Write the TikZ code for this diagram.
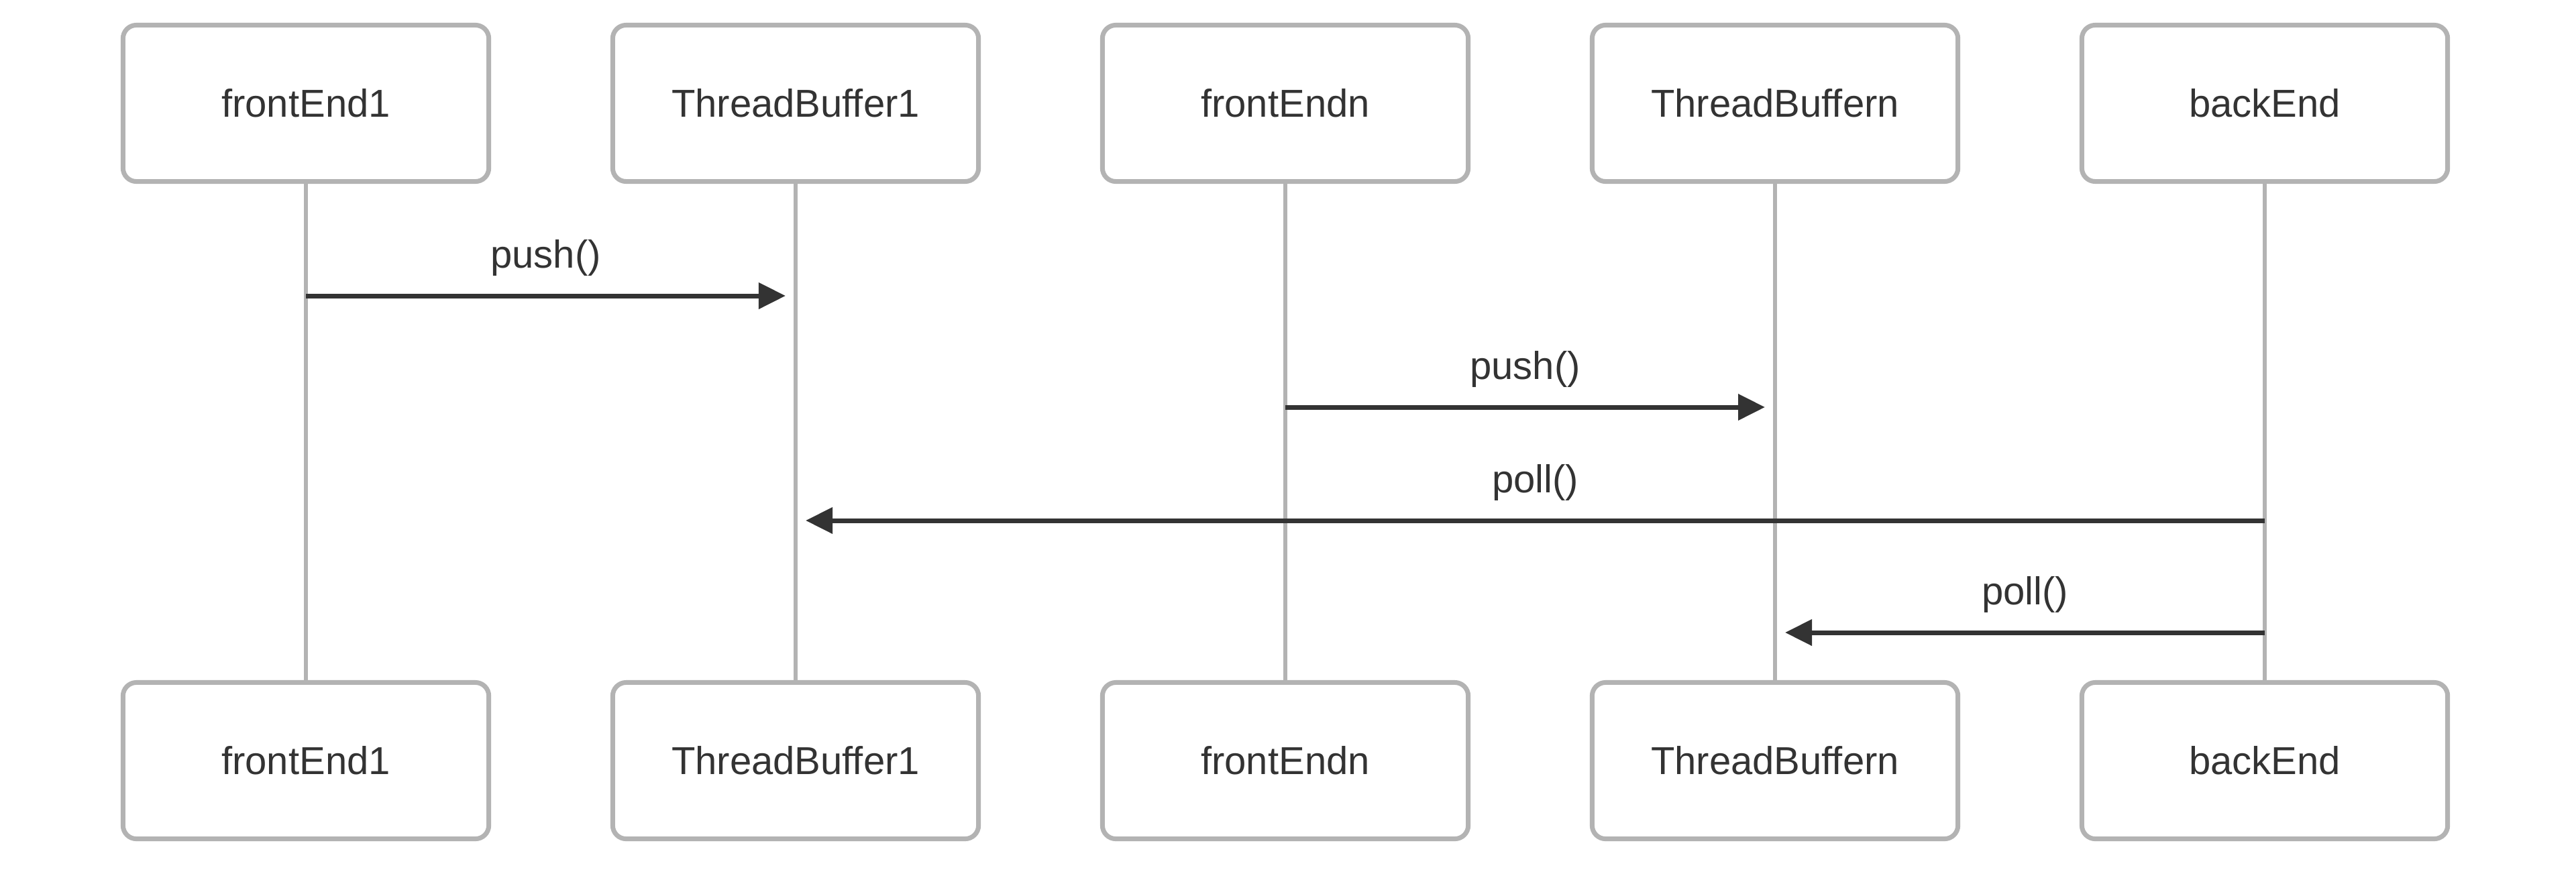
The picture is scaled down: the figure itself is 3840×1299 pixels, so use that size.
\documentclass[tikz,border=0pt]{standalone}
\usepackage{fontspec}
\setmainfont{Liberation Sans}
\usepackage{tikz}
\usetikzlibrary{arrows.meta,calc}
\definecolor{seqGray}{HTML}{B3B3B3}
\definecolor{seqInk}{HTML}{333333}

\begin{document}
\begin{tikzpicture}[
    x=0.01cm, y=-0.01cm,
    actor/.style    = {draw=seqGray, line width=0.07cm, rounded corners=0.2cm, fill=white,
                       minimum width=5.45cm, minimum height=2.33cm, inner sep=0pt,
                       text=seqInk, font=\fontsize{16.5}{20}\selectfont},
    lifeline/.style = {draw=seqGray, line width=0.06cm},
    msg/.style      = {draw=seqInk, line width=0.07cm,
                       -{Triangle[length=0.4cm, width=0.38cm]}},
    msglbl/.style   = {above=0.26cm, inner sep=0pt, text=seqInk, font=\fontsize{16.5}{20}\selectfont}
  ]
  \useasboundingbox (0,0) rectangle (3840,1299);

  %% Participants: head box, foot box and the lifeline between them
  \foreach \i/\nm/\lbl in {0/fe1/frontEnd1, 1/tb1/ThreadBuffer1, 2/fen/frontEndn,
                           3/tbn/ThreadBuffern, 4/be/backEnd}{
    \node[actor] (\nm-top) at (456+730*\i, 154) {\lbl};
    \node[actor] (\nm-bot) at (456+730*\i, 1134) {\lbl};
    \draw[lifeline] (\nm-top) -- (\nm-bot);
  }

  %% Message rows
  \coordinate (push1) at (0, 441);
  \coordinate (pushn) at (0, 607);
  \coordinate (poll1) at (0, 776);
  \coordinate (polln) at (0, 943);

  \draw[msg] (fe1-top |- push1) -- ($(tb1-top |- push1)+(-15,0)$) node[midway, msglbl] {push()};
  \draw[msg] (fen-top |- pushn) -- ($(tbn-top |- pushn)+(-15,0)$) node[midway, msglbl] {push()};
  \draw[msg] (be-top |- poll1)  -- ($(tb1-top |- poll1)+(15,0)$)  node[midway, msglbl] {poll()};
  \draw[msg] (be-top |- polln)  -- ($(tbn-top |- polln)+(15,0)$)  node[midway, msglbl] {poll()};
\end{tikzpicture}
\end{document}
